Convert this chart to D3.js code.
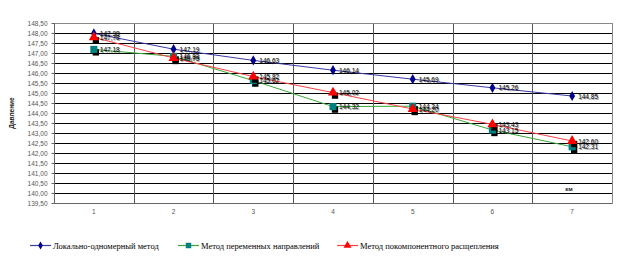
<!DOCTYPE html>
<html><head><meta charset="utf-8">
<script src="https://cdn.jsdelivr.net/npm/d3@7"></script>
<style>body{margin:0;background:#fff}svg{display:block}
.lbl{font-family:"Liberation Sans",Arial,sans-serif;font-size:6.5px;text-shadow:1px 1px 0 rgba(0,0,0,0.45)}
.leg{font-family:"Liberation Serif","Times New Roman",serif;font-size:8.5px}
</style>
</head><body><svg id="c" width="621" height="265"></svg>
<script>
const categories = [1,2,3,4,5,6,7];
const seriesNames = ["Локально-одномерный метод","Метод переменных направлений","Метод покомпонентного расщепления"];
const blueValues  = [147.98,147.19,146.63,146.14,145.69,145.26,144.85];
const greenValues = [147.18,146.83,145.62,144.32,144.34,143.15,142.31];
const redValues   = [147.78,146.75,145.82,145.02,144.20,143.43,142.60];
const yTicks = d3.range(139.5,148.51,0.5);
const yTitle = "Давление";
const xTitle = "км";

const svg = d3.select("#c");
const L=54,R=612,T=23,B=203;
const x = d3.scaleBand().domain(categories).range([L,R]);
const y = d3.scaleLinear().domain([139.5,148.5]).range([B,T]);
const cx = d=>x(d)+x.bandwidth()/2;
const fmt = v=>d3.format(".2f")(v).replace(".",",");

svg.append("g").selectAll("line").data(yTicks.slice(1)).join("line")
  .attr("x1",L).attr("x2",R).attr("y1",d=>Math.round(y(d))+0.5).attr("y2",d=>Math.round(y(d))+0.5)
  .attr("stroke","#000").attr("stroke-width",1);
svg.append("g").selectAll("line").data(categories.slice(1)).join("line")
  .attr("x1",d=>Math.round(x(d))+0.5).attr("x2",d=>Math.round(x(d))+0.5).attr("y1",T).attr("y2",B)
  .attr("stroke","#555").attr("stroke-width",1);
svg.append("rect").attr("x",L+0.5).attr("y",T+0.5).attr("width",R-L).attr("height",B-T)
  .attr("fill","none").attr("stroke","#888");
svg.append("line").attr("x1",L+0.5).attr("x2",L+0.5).attr("y1",T).attr("y2",B).attr("stroke","#666");
svg.append("line").attr("x1",L).attr("x2",R).attr("y1",B+0.5).attr("y2",B+0.5).attr("stroke","#666");

const ya = svg.append("g").attr("transform",`translate(${L+0.5},0)`)
  .call(d3.axisLeft(y).tickValues(yTicks).tickFormat(fmt).tickSize(3));
ya.select(".domain").remove();
ya.selectAll("line").attr("stroke","#666");
ya.selectAll("text").attr("font-family","Liberation Sans, Arial").attr("font-size","6.5px").attr("fill","#555").attr("dx","-1");
const xa = svg.append("g").attr("transform",`translate(0,${B+0.5})`)
  .call(d3.axisBottom(x).tickSize(0).tickPadding(6));
xa.select(".domain").remove();
xa.selectAll("text").attr("font-family","Liberation Sans, Arial").attr("font-size","6.5px").attr("fill","#555");

svg.append("text").attr("transform","translate(14,113) rotate(-90)").attr("text-anchor","middle")
  .attr("font-family","Liberation Sans, Arial").attr("font-size","6.5px").attr("font-weight","bold").attr("fill","#222").text(yTitle);
svg.append("text").attr("x",569).attr("y",191).attr("text-anchor","middle")
  .attr("font-family","Liberation Sans, Arial").attr("font-size","6px").attr("font-weight","bold").attr("fill","#222").text(xTitle);

const series = [
  {name:seriesNames[0], vals:blueValues, line:"#3a3aa8", fill:"#00008b", shape:"diamond", shadow:false},
  {name:seriesNames[1], vals:greenValues, line:"#3aa83a", fill:"#008080", shape:"square", shadow:true},
  {name:seriesNames[2], vals:redValues, line:"#ff4040", fill:"#ff0000", shape:"triangle", shadow:true}
];
const sym = {diamond:d3.symbolDiamond, square:d3.symbolSquare, triangle:d3.symbolTriangle};
const size = {diamond:30, square:50, triangle:45};

const line = d3.line().x((d,i)=>cx(categories[i])).y(d=>y(d));
series.forEach(s=>{
  svg.append("path").datum(s.vals).attr("d",line).attr("fill","none").attr("stroke",s.line).attr("stroke-width",1);
});
series.forEach(s=>{
  const g = svg.append("g");
  if(s.shadow){
    g.selectAll("path.sh").data(s.vals).join("path").attr("class","sh")
      .attr("transform",(d,i)=>`translate(${cx(categories[i])+2},${y(d)+3})`)
      .attr("d",d3.symbol(d3.symbolSquare,40)).attr("fill","#000");
  }
  g.selectAll("path.m").data(s.vals).join("path").attr("class","m")
    .attr("transform",(d,i)=>`translate(${cx(categories[i])},${y(d)})`)
    .attr("d",d3.symbol(sym[s.shape],size[s.shape])).attr("fill",s.fill);
});
series.forEach(s=>{
  svg.append("g").selectAll("text").data(s.vals).join("text").attr("class","lbl")
    .attr("x",(d,i)=>cx(categories[i])+6).attr("y",(d,i)=>y(d)+2.5)
    .attr("fill","#000").text(d=>fmt(d));
});

const lx=[30,178,337];
series.forEach((s,i)=>{
  const g = svg.append("g").attr("transform",`translate(${lx[i]},245)`);
  g.append("line").attr("x1",0).attr("x2",21).attr("y1",0.5).attr("y2",0.5).attr("stroke",s.line).attr("stroke-width",1.2);
  g.append("path").attr("transform","translate(10.5,0.5)").attr("d",d3.symbol(sym[s.shape],size[s.shape]*0.6)).attr("fill",s.fill);
  g.append("text").attr("class","leg").attr("x",23).attr("y",3.5).attr("fill","#000").text(s.name);
});
</script></body></html>
